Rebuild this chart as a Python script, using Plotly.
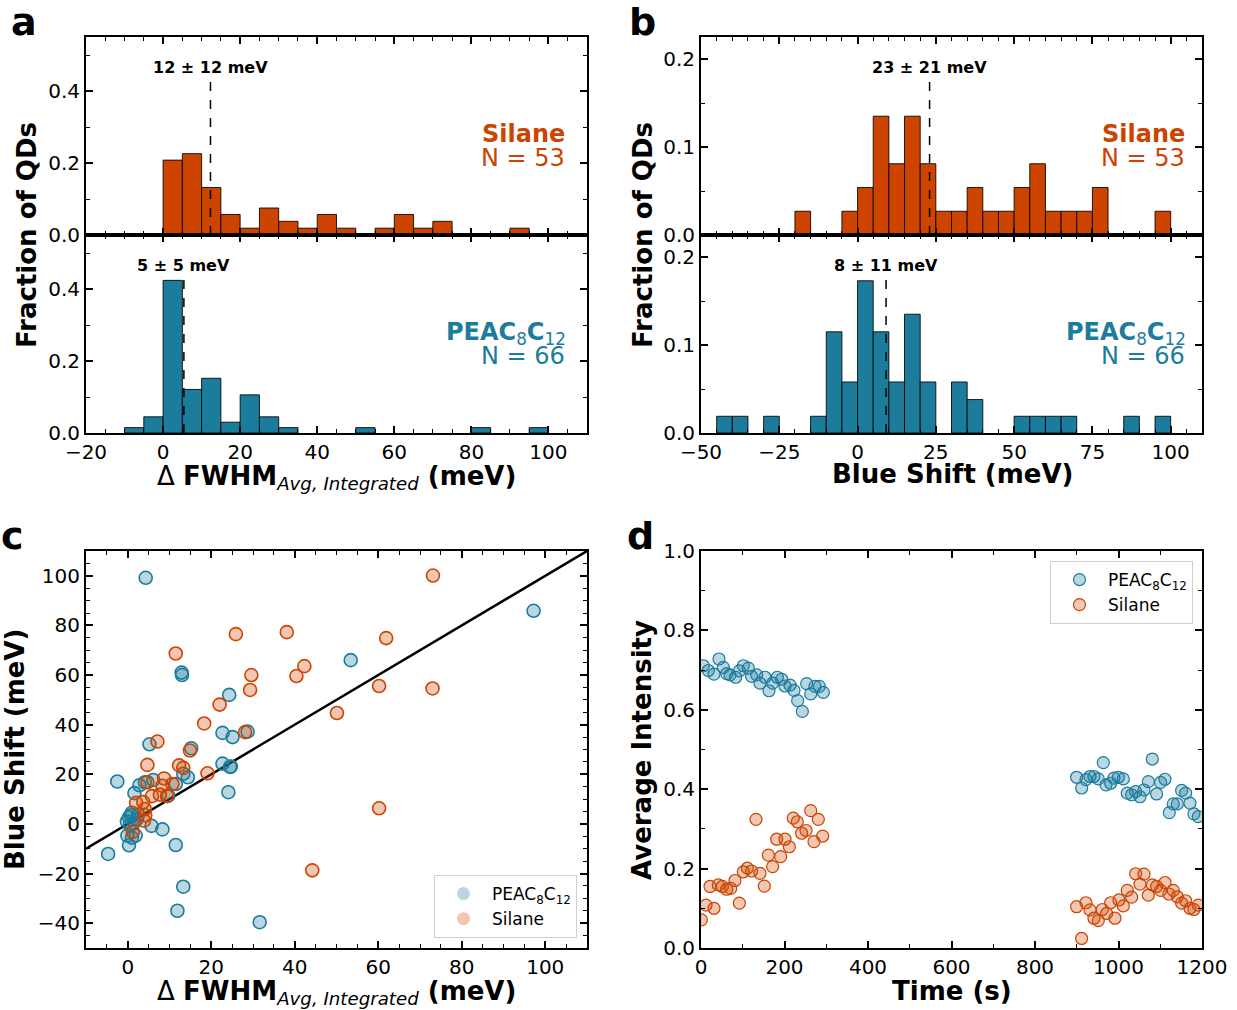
import plotly.graph_objects as go

# ---------------- DATA ----------------
# Panel a: histograms of delta FWHM (bin left edges, width 5 meV), fraction of QDs
fwhm_bins_silane = [0, 5, 10, 15, 20, 25, 30, 35, 40, 45, 55, 60, 65, 70, 90]
fwhm_frac_silane = [0.208, 0.226, 0.132, 0.057, 0.019, 0.075, 0.038, 0.019, 0.057, 0.019,
                    0.019, 0.057, 0.019, 0.038, 0.019]
fwhm_bins_peac = [-10, -5, 0, 5, 10, 15, 20, 25, 30, 50, 80, 95]
fwhm_frac_peac = [0.015, 0.045, 0.424, 0.121, 0.152, 0.030, 0.106, 0.045, 0.015, 0.015, 0.015, 0.015]

# Panel b: histograms of blue shift
shift_bins_silane = [-20, -5, 0, 5, 10, 15, 20, 25, 30, 35, 40, 45, 50, 55, 60, 65, 70, 75, 95]
shift_frac_silane = [0.027, 0.027, 0.054, 0.135, 0.081, 0.135, 0.081, 0.027, 0.027, 0.054,
                     0.027, 0.027, 0.054, 0.081, 0.027, 0.027, 0.027, 0.054, 0.027]
shift_bins_peac = [-45, -40, -30, -15, -10, -5, 0, 5, 10, 15, 20, 30, 35, 50, 55, 60, 65, 85, 95]
shift_frac_peac = [0.019, 0.019, 0.019, 0.019, 0.115, 0.058, 0.173, 0.115, 0.058, 0.135,
                   0.058, 0.058, 0.038, 0.019, 0.019, 0.019, 0.019, 0.019, 0.019]
bin_width = 5

# mean markers (position, top of dashed line, label)
mean_fwhm_silane, mean_fwhm_peac = 12.3, 5.4
mean_shift_silane, mean_shift_peac = 23.0, 9.1
mean_top_a, mean_top_b = 0.436, 0.178
label_fwhm_silane = "12 ± 12 meV"
label_fwhm_peac = "5 ± 5 meV"
label_shift_silane = "23 ± 21 meV"
label_shift_peac = "8 ± 11 meV"
n_silane, n_peac = 53, 66

# Panel c: scatter of blue shift vs delta FWHM
peac_fwhm = [4.3, 97.2, 53.4, 12.9, 13.0, 24.3, 22.7, 25.1, 28.7, 5.2, 15.2, -2.5, 22.7, 24.7,
             24.5, 24.1, 13.3, 14.4, 1.6, 2.8, 6.1, 11.5, 9.7, 4.1, 0.3, 0.8, -0.2, 1.5, 2.2,
             0.5, 1.0, 2.5, 5.7, 8.3, -0.1, 1.9, 1.0, 0.3, -4.7, 11.5, 13.3, 11.9, 31.6]
peac_shift = [99.2, 85.9, 66.0, 61.0, 60.0, 52.0, 36.7, 35.0, 37.2, 32.1, 30.5, 17.1, 24.3, 23.1,
              23.0, 12.8, 20.2, 18.8, 12.4, 15.6, 17.7, 16.1, 11.4, 16.8, 2.7, 3.5, 1.0, 0.5, 2.0,
              -0.5, 4.5, 3.8, -0.8, -2.2, -4.7, -4.7, -5.5, -8.6, -12.1, -8.5, -25.3, -35.0, -39.6]
silane_fwhm = [11.5, 25.9, 38.1, 29.6, 29.3, 42.3, 40.4, 22.0, 18.3, 50.1, 73.1, 61.9, 60.2, 73.0,
               60.2, 44.2, 7.1, 28.1, 14.9, 4.7, 12.3, 13.3, 19.1, 8.7, 4.7, 10.7, 8.3, 5.8, 9.4,
               7.7, 2.0, 3.7, 4.1, 4.2, 3.9, 1.2]
silane_shift = [68.7, 76.5, 77.3, 60.0, 54.0, 63.6, 59.6, 48.1, 40.5, 44.7, 100.1, 74.9, 55.6, 54.6,
                6.3, -18.7, 33.2, 37.0, 29.6, 23.8, 23.6, 22.6, 20.4, 18.3, 16.8, 16.1, 15.4, 11.2,
                11.2, 11.8, 8.5, 8.8, 6.0, 3.5, 1.3, -3.2]
identity_line = [-10, 110]

# Panel d: average intensity vs time
peac_time = [5.6, 17.6, 31.1, 43.1, 53.5, 61.5, 69.5, 83.0, 91.8, 101.4, 113.4, 121.3, 133.3,
             141.3, 153.3, 162.9, 171.6, 182.8, 193.2, 201.2, 213.2, 222.7, 231.5, 242.7, 253.1,
             262.7, 273.0, 283.4, 293.0,
             899.7, 911.7, 922.1, 931.7, 941.2, 951.6, 963.6, 970.0, 981.2, 989.1, 999.5, 1011.5,
             1021.1, 1031.5, 1041.1, 1051.4, 1061.0, 1071.4, 1081.0, 1091.3, 1100.9, 1111.3,
             1121.7, 1131.2, 1140.8, 1151.2, 1160.8, 1171.2, 1180.7, 1191.1]
peac_int = [0.711, 0.699, 0.690, 0.728, 0.707, 0.691, 0.688, 0.682, 0.698, 0.711, 0.705, 0.684,
            0.688, 0.667, 0.682, 0.648, 0.667, 0.682, 0.677, 0.660, 0.662, 0.649, 0.623, 0.596,
            0.666, 0.640, 0.659, 0.659, 0.644,
            0.430, 0.403, 0.424, 0.432, 0.432, 0.426, 0.467, 0.411, 0.415, 0.428, 0.430, 0.426,
            0.390, 0.386, 0.394, 0.381, 0.398, 0.419, 0.476, 0.388, 0.417, 0.425, 0.341, 0.363,
            0.363, 0.397, 0.390, 0.365, 0.338, 0.331]
silane_time = [1.0, 12.0, 21.6, 31.1, 41.5, 51.1, 61.5, 71.1, 81.4, 91.8, 101.4, 111.0, 121.3,
               131.7, 141.3, 151.7, 161.3, 171.6, 181.2, 190.8, 201.2, 211.6, 221.1, 230.7, 241.1,
               251.5, 262.7, 270.6, 281.0, 291.4,
               899.7, 911.7, 922.1, 931.7, 941.2, 951.6, 961.2, 971.6, 981.2, 991.5, 1001.1,
               1011.5, 1021.1, 1031.5, 1041.1, 1051.4, 1061.0, 1071.4, 1081.0, 1091.3, 1100.9,
               1111.3, 1120.9, 1131.2, 1140.8, 1151.2, 1160.8, 1171.2, 1180.7, 1191.1]
silane_int = [0.071, 0.108, 0.155, 0.100, 0.159, 0.155, 0.148, 0.150, 0.170, 0.113, 0.192, 0.201,
              0.194, 0.324, 0.188, 0.156, 0.234, 0.205, 0.274, 0.230, 0.274, 0.255, 0.327, 0.318,
              0.289, 0.296, 0.346, 0.268, 0.324, 0.282,
              0.104, 0.024, 0.114, 0.096, 0.075, 0.069, 0.097, 0.087, 0.114, 0.075, 0.121, 0.106,
              0.145, 0.128, 0.187, 0.161, 0.186, 0.133, 0.159, 0.155, 0.145, 0.165, 0.136, 0.145,
              0.129, 0.113, 0.119, 0.100, 0.097, 0.108]

# ---------------- STYLE ----------------
W, H = 1237, 1010
ORANGE = "#cc4400"
BLUE = "#1b7c9c"
ORANGE_FILL = "rgba(204,68,0,0.3)"
BLUE_FILL = "rgba(27,124,156,0.3)"
FONT = "DejaVu Sans"
TICK_SIZE = 20
TITLE_SIZE = 26


def px(x):
    return x / W


def py(y):
    return 1 - y / H


AX_A = [px(86), px(587)]
AX_B = [px(701), px(1202)]
Y_TOP = [py(235), py(37)]
Y_BOT = [py(433), py(235)]
Y_LOW = [py(948), py(551)]


def axis(domain, rng, dtick, minor_dtick, anchor, fmt=None, labels=True, **kw):
    d = dict(domain=domain, range=rng, dtick=dtick, tick0=0, anchor=anchor,
             automargin=False,
             showline=True, linewidth=2, linecolor="black", mirror="ticks",
             ticks="inside", ticklen=7, tickwidth=1.5, tickcolor="black",
             showgrid=False, zeroline=False, showticklabels=labels,
             tickfont=dict(family=FONT, size=TICK_SIZE, color="black"),
             minor=dict(ticks="inside", ticklen=4, tickwidth=1, tickcolor="black",
                        dtick=minor_dtick, tick0=0, showgrid=False))
    if fmt:
        d["tickformat"] = fmt
    d.update(kw)
    return d


fig = go.Figure()


def bars(x, y, color, xa, ya):
    fig.add_trace(go.Bar(x=x, y=y, width=bin_width, offset=0, xaxis=xa, yaxis=ya,
                         marker=dict(color=color, line=dict(color="rgba(0,0,0,0.85)", width=1)),
                         showlegend=False, hoverinfo="skip"))


def mean_line(m, top, xa, ya):
    fig.add_trace(go.Scatter(x=[m, m], y=[0, top], mode="lines", xaxis=xa, yaxis=ya,
                             line=dict(color="black", width=1.5, dash="dash"),
                             showlegend=False, hoverinfo="skip"))


# Panel a
bars(fwhm_bins_silane, fwhm_frac_silane, ORANGE, "x", "y")
mean_line(mean_fwhm_silane, mean_top_a, "x", "y")
bars(fwhm_bins_peac, fwhm_frac_peac, BLUE, "x2", "y2")
mean_line(mean_fwhm_peac, mean_top_a, "x2", "y2")
# Panel b
bars(shift_bins_silane, shift_frac_silane, ORANGE, "x3", "y3")
mean_line(mean_shift_silane, mean_top_b, "x3", "y3")
bars(shift_bins_peac, shift_frac_peac, BLUE, "x4", "y4")
mean_line(mean_shift_peac, mean_top_b, "x4", "y4")

# Panel c
fig.add_trace(go.Scatter(x=identity_line, y=identity_line, mode="lines", xaxis="x5", yaxis="y5",
                         line=dict(color="black", width=2.5), showlegend=False, hoverinfo="skip"))
fig.add_trace(go.Scatter(x=peac_fwhm, y=peac_shift, mode="markers", xaxis="x5", yaxis="y5",
                         marker=dict(size=13, color=BLUE_FILL, line=dict(color=BLUE, width=1.6)),
                         showlegend=False))
fig.add_trace(go.Scatter(x=silane_fwhm, y=silane_shift, mode="markers", xaxis="x5", yaxis="y5",
                         marker=dict(size=13, color=ORANGE_FILL, line=dict(color=ORANGE, width=1.6)),
                         showlegend=False))
# legend entries for panel c (filled markers without edge)
fig.add_trace(go.Scatter(x=[None], y=[None], mode="markers", xaxis="x5", yaxis="y5",
                         name="PEAC<sub>8</sub>C<sub>12</sub>", legend="legend",
                         marker=dict(size=13, color=BLUE_FILL, line=dict(width=0))))
fig.add_trace(go.Scatter(x=[None], y=[None], mode="markers", xaxis="x5", yaxis="y5",
                         name="Silane", legend="legend",
                         marker=dict(size=13, color=ORANGE_FILL, line=dict(width=0))))

# Panel d
fig.add_trace(go.Scatter(x=peac_time, y=peac_int, mode="markers", xaxis="x6", yaxis="y6",
                         name="PEAC<sub>8</sub>C<sub>12</sub>", legend="legend2",
                         marker=dict(size=12, color=BLUE_FILL, line=dict(color=BLUE, width=1.2))))
fig.add_trace(go.Scatter(x=silane_time, y=silane_int, mode="markers", xaxis="x6", yaxis="y6",
                         name="Silane", legend="legend2",
                         marker=dict(size=12, color=ORANGE_FILL, line=dict(color=ORANGE, width=1.2))))

ann = []


def text(x, y, s, size, color="black", xanchor="center", yanchor="middle", angle=0,
         xref="paper", yref="paper"):
    ann.append(dict(x=x, y=y, xref=xref, yref=yref, text=s, showarrow=False,
                    xanchor=xanchor, yanchor=yanchor, textangle=angle,
                    font=dict(family=FONT, size=size, color=color)))


# panel letters
text(px(24), py(22), "<b>a</b>", 38)
text(px(642), py(22), "<b>b</b>", 38)
text(px(12), py(536), "<b>c</b>", 38)
text(px(641), py(536), "<b>d</b>", 38)

# mean labels
text(mean_fwhm_silane, py(67), "<b>" + label_fwhm_silane + "</b>", 16, xref="x")
text(mean_fwhm_peac, py(265), "<b>" + label_fwhm_peac + "</b>", 16, xref="x2")
text(mean_shift_silane, py(67), "<b>" + label_shift_silane + "</b>", 16, xref="x3")
text(mean_shift_peac, py(265), "<b>" + label_shift_peac + "</b>", 16, xref="x4")

# group labels
for xr in (567, 1187):
    text(px(xr), py(134), "<b>Silane</b>", 24, ORANGE, xanchor="right")
    text(px(xr), py(158), f"N = {n_silane}", 24, ORANGE, xanchor="right")
    text(px(xr + 1), py(333), "<b>PEAC</b><sub>8</sub><b>C</b><sub>12</sub>", 24, BLUE, xanchor="right")
    text(px(xr), py(356), f"N = {n_peac}", 24, BLUE, xanchor="right")

# axis titles
xt = "Δ <b>FWHM</b><sub><i>Avg, Integrated</i></sub><b> (meV)</b>"
text(px(336), py(477), xt, TITLE_SIZE)
text(px(952), py(474), "<b>Blue Shift (meV)</b>", TITLE_SIZE)
text(px(336), py(992), xt, TITLE_SIZE)
text(px(952), py(991), "<b>Time (s)</b>", TITLE_SIZE)
text(px(27), py(235), "<b>Fraction of QDs</b>", TITLE_SIZE, angle=-90)
text(px(643), py(235), "<b>Fraction of QDs</b>", TITLE_SIZE, angle=-90)
text(px(15), py(750), "<b>Blue Shift (meV)</b>", TITLE_SIZE, angle=-90)
text(px(642), py(750), "<b>Average Intensity</b>", TITLE_SIZE, angle=-90)

LEG = dict(bgcolor="rgba(255,255,255,0.8)", bordercolor="#d0d0d0", borderwidth=1,
           font=dict(family=FONT, size=17, color="black"), tracegroupgap=0, itemwidth=47)

fig.update_layout(
    width=W, height=H, margin=dict(l=0, r=0, t=0, b=0, autoexpand=False),
    paper_bgcolor="white", plot_bgcolor="white",
    font=dict(family=FONT, size=16, color="black"),
    barmode="overlay",
    annotations=ann,
    xaxis=axis(AX_A, [-20, 110], 20, 5, "y", labels=False, matches="x2"),
    yaxis=axis(Y_TOP, [0, 0.55], 0.2, 0.1, "x", fmt=".1f"),
    xaxis2=axis(AX_A, [-20, 110], 20, 5, "y2"),
    yaxis2=axis(Y_BOT, [0, 0.55], 0.2, 0.1, "x2", fmt=".1f"),
    xaxis3=axis(AX_B, [-50, 110], 25, 5, "y3", labels=False, matches="x4"),
    yaxis3=axis(Y_TOP, [0, 0.225], 0.1, 0.05, "x3", fmt=".1f"),
    xaxis4=axis(AX_B, [-50, 110], 25, 5, "y4"),
    yaxis4=axis(Y_BOT, [0, 0.225], 0.1, 0.05, "x4", fmt=".1f"),
    xaxis5=axis(AX_A, [-10, 110], 20, 5, "y5"),
    yaxis5=axis(Y_LOW, [-50, 110], 20, 5, "x5"),
    xaxis6=axis(AX_B, [0, 1200], 200, 100, "y6"),
    yaxis6=axis(Y_LOW, [0, 1], 0.2, 0.1, "x6", fmt=".1f"),
    legend=dict(x=px(577), y=py(938), xanchor="right", yanchor="bottom", **LEG),
    legend2=dict(x=px(1193), y=py(561), xanchor="right", yanchor="top", **LEG),
)

fig.write_html("out.html", config={"displayModeBar": False},
               post_script="document.body.style.margin='0px';")
